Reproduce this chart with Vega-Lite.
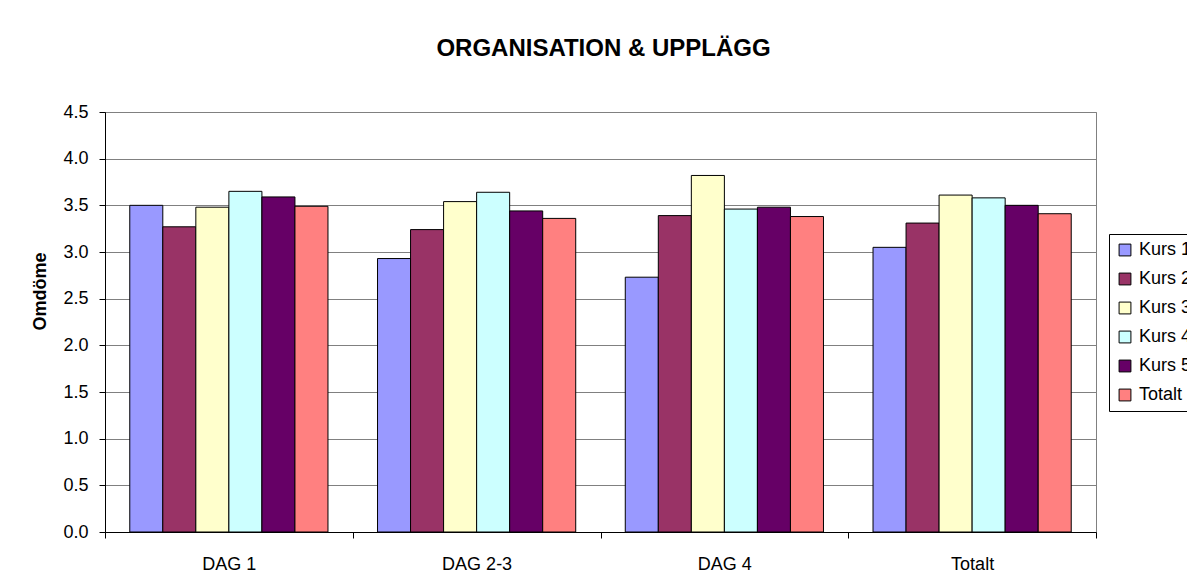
{
  "$schema": "https://vega.github.io/schema/vega-lite/v6.json",
  "autosize": {"type": "none"},
  "width": 991,
  "height": 420,
  "padding": {"left": 105, "top": 112, "right": 91, "bottom": 49},
  "background": "white",
  "title": {
    "text": "ORGANISATION & UPPLÄGG",
    "font": "Liberation Sans",
    "fontSize": 24,
    "fontWeight": "bold",
    "color": "black",
    "anchor": "middle",
    "frame": "group",
    "offset": 23,
    "baseline": "alphabetic",
    "dx": 3
  },
  "data": {
    "values": [
      {"dag": "DAG 1", "kurs": "Kurs 1", "varde": 3.50},
      {"dag": "DAG 1", "kurs": "Kurs 2", "varde": 3.27},
      {"dag": "DAG 1", "kurs": "Kurs 3", "varde": 3.48},
      {"dag": "DAG 1", "kurs": "Kurs 4", "varde": 3.65},
      {"dag": "DAG 1", "kurs": "Kurs 5", "varde": 3.59},
      {"dag": "DAG 1", "kurs": "Totalt", "varde": 3.49},
      {"dag": "DAG 2-3", "kurs": "Kurs 1", "varde": 2.93},
      {"dag": "DAG 2-3", "kurs": "Kurs 2", "varde": 3.24},
      {"dag": "DAG 2-3", "kurs": "Kurs 3", "varde": 3.54},
      {"dag": "DAG 2-3", "kurs": "Kurs 4", "varde": 3.64},
      {"dag": "DAG 2-3", "kurs": "Kurs 5", "varde": 3.44},
      {"dag": "DAG 2-3", "kurs": "Totalt", "varde": 3.36},
      {"dag": "DAG 4", "kurs": "Kurs 1", "varde": 2.73},
      {"dag": "DAG 4", "kurs": "Kurs 2", "varde": 3.39},
      {"dag": "DAG 4", "kurs": "Kurs 3", "varde": 3.82},
      {"dag": "DAG 4", "kurs": "Kurs 4", "varde": 3.46},
      {"dag": "DAG 4", "kurs": "Kurs 5", "varde": 3.48},
      {"dag": "DAG 4", "kurs": "Totalt", "varde": 3.38},
      {"dag": "Totalt", "kurs": "Kurs 1", "varde": 3.05},
      {"dag": "Totalt", "kurs": "Kurs 2", "varde": 3.31},
      {"dag": "Totalt", "kurs": "Kurs 3", "varde": 3.61},
      {"dag": "Totalt", "kurs": "Kurs 4", "varde": 3.58},
      {"dag": "Totalt", "kurs": "Kurs 5", "varde": 3.50},
      {"dag": "Totalt", "kurs": "Totalt", "varde": 3.41}
    ]
  },
  "mark": {"type": "bar", "stroke": "black", "strokeWidth": 1},
  "encoding": {
    "x": {
      "field": "dag",
      "type": "nominal",
      "sort": ["DAG 1", "DAG 2-3", "DAG 4", "Totalt"],
      "scale": {"paddingInner": 0, "paddingOuter": 0},
      "axis": {
        "title": null,
        "labelAngle": 0,
        "tickBand": "extent",
        "domainColor": "black",
        "tickColor": "black",
        "tickSize": 6,
        "labelPadding": 31,
        "labelBaseline": "alphabetic",
        "labelFontSize": 18,
        "labelFont": "Liberation Sans",
        "labelColor": "black",
        "grid": false
      }
    },
    "xOffset": {
      "field": "kurs",
      "type": "nominal",
      "sort": ["Kurs 1", "Kurs 2", "Kurs 3", "Kurs 4", "Kurs 5", "Totalt"],
      "scale": {"paddingInner": 0, "paddingOuter": 0.75}
    },
    "y": {
      "field": "varde",
      "type": "quantitative",
      "scale": {"domain": [0, 4.5], "nice": false},
      "axis": {
        "title": "Omdöme",
        "titleFont": "Liberation Sans",
        "titleFontSize": 18,
        "titleFontWeight": "bold",
        "titleColor": "black",
        "titleX": -65,
        "titleY": 179,
        "titleAngle": 270,
        "titleAlign": "center",
        "titleBaseline": "middle",
        "values": [0, 0.5, 1, 1.5, 2, 2.5, 3, 3.5, 4, 4.5],
        "format": ".1f",
        "domainColor": "black",
        "tickColor": "black",
        "tickSize": 6,
        "labelPadding": 11,
        "labelFontSize": 18,
        "labelFont": "Liberation Sans",
        "labelColor": "black",
        "grid": true,
        "gridColor": "#808080",
        "gridWidth": 1,
        "gridOpacity": 1
      }
    },
    "color": {
      "field": "kurs",
      "type": "nominal",
      "scale": {
        "domain": ["Kurs 1", "Kurs 2", "Kurs 3", "Kurs 4", "Kurs 5", "Totalt"],
        "range": ["#9999FF", "#993366", "#FFFFCC", "#CCFFFF", "#660066", "#FF8080"]
      },
      "legend": {
        "title": null,
        "orient": "none",
        "legendX": 1004,
        "legendY": 122,
        "strokeColor": "black",
        "fillColor": "white",
        "padding": 7,
        "rowPadding": 11,
        "symbolType": "square",
        "symbolSize": 140,
        "symbolStrokeColor": "black",
        "symbolStrokeWidth": 1,
        "labelFontSize": 18,
        "labelFont": "Liberation Sans",
        "labelColor": "black",
        "labelOffset": 5
      }
    }
  },
  "config": {
    "view": {"stroke": "#808080", "strokeWidth": 1}
  }
}
